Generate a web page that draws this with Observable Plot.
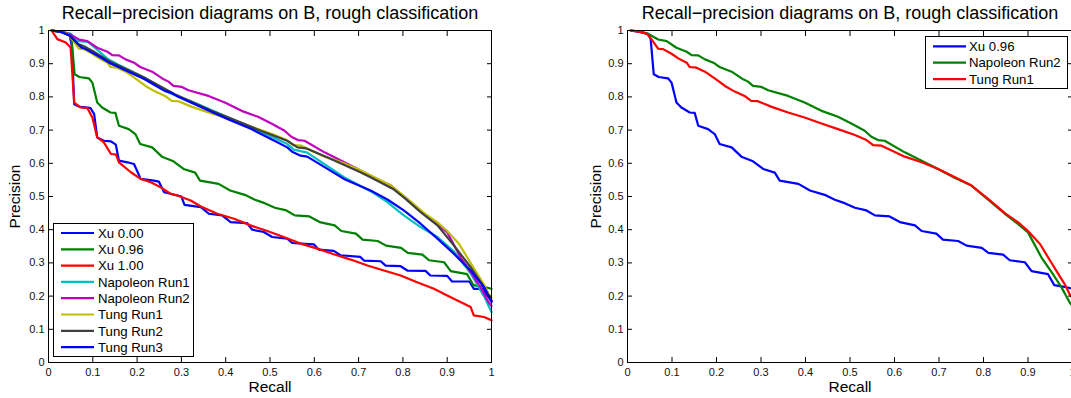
<!DOCTYPE html>
<html><head><meta charset="utf-8">
<script src="https://cdn.jsdelivr.net/npm/d3@7"></script>
<script src="https://cdn.jsdelivr.net/npm/@observablehq/plot@0.6"></script>
<style>
html,body{margin:0;padding:0;background:#fff;overflow:hidden}
#wrap{position:relative;width:1071px;height:398px;overflow:hidden;background:#fff;font-family:"Liberation Sans",Arial,sans-serif}
.panel{position:absolute;top:0}
.legend{position:absolute;overflow:visible}
</style></head><body><div id="wrap"></div>
<script>
// ---- data (recall, precision) ----
const titleText = "Recall\u2212precision diagrams on B, rough classification";
const xLabel = "Recall";
const yLabel = "Precision";
const tickValues = [0,0.1,0.2,0.3,0.4,0.5,0.6,0.7,0.8,0.9,1];
const tickLabels = ["0","0.1","0.2","0.3","0.4","0.5","0.6","0.7","0.8","0.9","1"];

const xu000 = [[0.007,1],[0.03,0.995],[0.048,0.985],[0.053,0.95],[0.058,0.778],[0.07,0.77],[0.088,0.768],[0.095,0.766],[0.103,0.748],[0.110,0.678],[0.125,0.668],[0.141,0.666],[0.152,0.656],[0.159,0.608],[0.178,0.603],[0.193,0.598],[0.208,0.553],[0.238,0.548],[0.249,0.545],[0.261,0.513],[0.291,0.503],[0.300,0.500],[0.307,0.475],[0.344,0.468],[0.362,0.448],[0.392,0.443],[0.411,0.423],[0.448,0.420],[0.460,0.400],[0.486,0.393],[0.505,0.378],[0.539,0.373],[0.550,0.360],[0.599,0.356],[0.610,0.340],[0.644,0.336],[0.659,0.323],[0.704,0.318],[0.712,0.307],[0.750,0.305],[0.761,0.292],[0.795,0.290],[0.810,0.277],[0.851,0.276],[0.862,0.262],[0.900,0.261],[0.911,0.244],[0.950,0.244],[0.960,0.222],[0.980,0.222],[1.0,0.185]];
const xu096 = [[0.007,1],[0.03,0.995],[0.046,0.99],[0.052,0.975],[0.059,0.868],[0.070,0.860],[0.091,0.856],[0.099,0.843],[0.110,0.783],[0.121,0.768],[0.140,0.753],[0.151,0.752],[0.159,0.713],[0.181,0.703],[0.196,0.688],[0.207,0.658],[0.234,0.648],[0.256,0.620],[0.282,0.606],[0.305,0.583],[0.331,0.572],[0.342,0.548],[0.384,0.538],[0.410,0.518],[0.443,0.505],[0.466,0.490],[0.488,0.480],[0.511,0.466],[0.537,0.458],[0.556,0.443],[0.589,0.440],[0.612,0.423],[0.646,0.413],[0.661,0.396],[0.694,0.388],[0.709,0.370],[0.743,0.366],[0.762,0.352],[0.796,0.345],[0.811,0.330],[0.844,0.325],[0.859,0.308],[0.893,0.302],[0.908,0.275],[0.945,0.266],[0.959,0.233],[0.982,0.228],[1.0,0.222]];
const xu100 = [[0.007,1],[0.02,0.974],[0.039,0.964],[0.050,0.949],[0.058,0.783],[0.073,0.768],[0.088,0.766],[0.099,0.738],[0.110,0.678],[0.125,0.663],[0.141,0.628],[0.152,0.627],[0.159,0.603],[0.186,0.573],[0.208,0.553],[0.231,0.543],[0.253,0.528],[0.276,0.508],[0.291,0.503],[0.321,0.488],[0.344,0.470],[0.381,0.448],[0.419,0.433],[0.456,0.413],[0.494,0.396],[0.531,0.378],[0.569,0.358],[0.607,0.343],[0.644,0.326],[0.682,0.310],[0.720,0.292],[0.757,0.277],[0.795,0.262],[0.832,0.242],[0.870,0.222],[0.900,0.202],[0.923,0.187],[0.953,0.167],[0.960,0.142],[0.983,0.137],[1.0,0.127]];
const napoleon1 = [[0.007,1],[0.03,0.996],[0.051,0.99],[0.063,0.969],[0.089,0.966],[0.104,0.949],[0.134,0.914],[0.16,0.895],[0.217,0.858],[0.276,0.810],[0.33,0.782],[0.40,0.742],[0.45,0.712],[0.50,0.682],[0.539,0.658],[0.554,0.641],[0.584,0.632],[0.667,0.558],[0.727,0.516],[0.765,0.483],[0.802,0.443],[0.840,0.408],[0.878,0.378],[0.915,0.335],[0.953,0.268],[0.983,0.200],[1.0,0.152]];
const napoleon2 = [[0.007,1],[0.03,0.997],[0.046,0.990],[0.069,0.973],[0.088,0.968],[0.110,0.948],[0.133,0.936],[0.144,0.926],[0.159,0.925],[0.174,0.913],[0.193,0.903],[0.207,0.890],[0.234,0.876],[0.260,0.853],[0.271,0.846],[0.282,0.833],[0.301,0.830],[0.316,0.820],[0.361,0.803],[0.398,0.783],[0.436,0.758],[0.473,0.740],[0.503,0.720],[0.533,0.698],[0.548,0.680],[0.563,0.670],[0.578,0.668],[0.623,0.633],[0.661,0.608],[0.698,0.583],[0.736,0.556],[0.773,0.533],[0.811,0.490],[0.848,0.448],[0.878,0.417],[0.900,0.392],[0.930,0.317],[0.953,0.272],[0.975,0.227],[0.994,0.180],[1.0,0.17]];
const tung1 = [[0.007,1],[0.03,0.995],[0.044,0.990],[0.054,0.973],[0.069,0.945],[0.080,0.944],[0.099,0.930],[0.114,0.916],[0.133,0.903],[0.140,0.890],[0.155,0.888],[0.174,0.876],[0.196,0.856],[0.219,0.833],[0.241,0.816],[0.263,0.803],[0.278,0.788],[0.293,0.787],[0.324,0.770],[0.361,0.753],[0.398,0.738],[0.436,0.720],[0.473,0.703],[0.511,0.685],[0.537,0.670],[0.552,0.655],[0.571,0.653],[0.623,0.620],[0.661,0.603],[0.698,0.583],[0.736,0.558],[0.773,0.533],[0.811,0.492],[0.848,0.450],[0.878,0.422],[0.900,0.396],[0.927,0.357],[0.945,0.317],[0.968,0.267],[0.982,0.237],[0.994,0.205],[1.0,0.195]];
const tung2 = [[0.007,1],[0.03,0.996],[0.048,0.986],[0.067,0.959],[0.084,0.950],[0.104,0.935],[0.142,0.904],[0.155,0.897],[0.217,0.858],[0.285,0.808],[0.368,0.758],[0.443,0.718],[0.479,0.698],[0.539,0.668],[0.562,0.648],[0.581,0.645],[0.629,0.618],[0.704,0.573],[0.727,0.558],[0.780,0.521],[0.806,0.493],[0.840,0.453],[0.878,0.413],[0.915,0.353],[0.953,0.287],[0.983,0.227],[1.0,0.187]];
const tung3 = [[0.007,1],[0.03,0.995],[0.048,0.984],[0.063,0.964],[0.074,0.949],[0.084,0.944],[0.104,0.929],[0.120,0.917],[0.142,0.899],[0.153,0.893],[0.217,0.853],[0.262,0.818],[0.277,0.812],[0.289,0.803],[0.330,0.778],[0.405,0.733],[0.458,0.703],[0.510,0.668],[0.539,0.648],[0.550,0.635],[0.569,0.623],[0.584,0.620],[0.667,0.553],[0.727,0.518],[0.765,0.491],[0.802,0.458],[0.840,0.418],[0.878,0.373],[0.915,0.328],[0.953,0.277],[0.983,0.227],[1.0,0.182]];

const leftNames = ["Xu 0.00","Xu 0.96","Xu 1.00","Napoleon Run1","Napoleon Run2","Tung Run1","Tung Run2","Tung Run3"];
const leftSeries = [xu000, xu096, xu100, napoleon1, napoleon2, tung1, tung2, tung3];
const leftColors = ["#0000ff","#008000","#ff0000","#00bfbf","#bf00bf","#bfbf00","#404040","#0000ff"];

const rightNames = ["Xu 0.96","Napoleon Run2","Tung Run1"];
const rightSeries = [xu096, napoleon2, tung1];
const rightColors = ["#0000ff","#008000","#ff0000"];

// ---- build ----
const FONT = "'Liberation Sans', Arial, Helvetica, sans-serif";
const fmt = d => tickLabels[tickValues.indexOf(d)];

function table(names, series) {
  const rows = [];
  names.forEach((n, k) => series[k].forEach(([r, p]) => rows.push({series: n, r, p})));
  return rows;
}

function panel(names, series, colors, opt) {
  const data = table(names, series);
  const tickAxis = (fn, anchor) => fn({anchor, ticks: tickValues, tickSize: -5, fill: "none", stroke: "#000", label: null});
  return Plot.plot({
    width: opt.width, height: 398,
    marginLeft: opt.ml, marginRight: opt.mr, marginTop: 30, marginBottom: 36,
    style: {fontFamily: FONT, fontSize: "11px", color: "#000", background: "transparent", overflow: "visible"},
    x: {domain: [0, 1]},
    y: {domain: [0, 1]},
    color: {domain: names, range: colors},
    marks: [
      Plot.line(data, {x: "r", y: "p", z: "series", stroke: "series", strokeWidth: 2.2, curve: "linear"}),
      Plot.frame({stroke: "#000", strokeWidth: 1}),
      tickAxis(Plot.axisX, "bottom"),
      tickAxis(Plot.axisX, "top"),
      tickAxis(Plot.axisY, "left"),
      tickAxis(Plot.axisY, "right"),
      Plot.axisX({anchor: "bottom", ticks: tickValues, tickFormat: fmt, tickSize: 0, tickPadding: 6, stroke: "none", fill: "#111", fontSize: 11, label: null}),
      Plot.axisY({anchor: "left", ticks: tickValues, tickFormat: fmt, tickSize: 0, tickPadding: 4, stroke: "none", fill: "#111", fontSize: 11, label: null}),
      Plot.text([titleText], {text: d => d, frameAnchor: "top", lineAnchor: "middle", textAnchor: "middle", dy: -17, fontSize: 18, fill: "#000"}),
      Plot.text([xLabel], {text: d => d, frameAnchor: "bottom", lineAnchor: "middle", textAnchor: "middle", dy: 25, fontSize: 15.5, fill: "#000"}),
      Plot.text([yLabel], {text: d => d, frameAnchor: "left", lineAnchor: "middle", textAnchor: "middle", dx: opt.ydx, rotate: -90, fontSize: 15.5, fill: "#000"})
    ]
  });
}

function legend(names, colors, box) {
  const svg = d3.create("svg").attr("class", "legend")
    .attr("width", box.w + 2).attr("height", box.h + 2)
    .style("left", (box.x - 1) + "px").style("top", (box.y - 1) + "px");
  svg.append("rect").attr("x", 1.5).attr("y", 1.5).attr("width", box.w - 1).attr("height", box.h - 1)
    .attr("fill", "#fff").attr("stroke", "#000").attr("stroke-width", 1);
  names.forEach((n, k) => {
    const cy = 1 + box.first + k * box.step;
    svg.append("line").attr("x1", 1 + box.lx).attr("x2", 1 + box.lx + box.ll).attr("y1", cy).attr("y2", cy)
      .attr("stroke", colors[k]).attr("stroke-width", 2.2);
    svg.append("text").attr("x", 1 + box.tx).attr("y", cy).attr("dy", "0.36em")
      .attr("font-family", FONT).attr("font-size", 13.2).attr("fill", "#000").text(n);
  });
  return svg.node();
}

const wrap = document.getElementById("wrap");
const left = panel(leftNames, leftSeries, leftColors, {width: 500, ml: 48, mr: 9, ydx: -33});
left.classList.add("panel"); left.style.left = "0px";
wrap.appendChild(left);
const right = panel(rightNames, rightSeries, rightColors, {width: 520, ml: 56, mr: 19, ydx: -31});
right.classList.add("panel"); right.style.left = "571px";
wrap.appendChild(right);

wrap.appendChild(legend(leftNames, leftColors, {x: 53, y: 222.5, w: 141, h: 134, first: 10, step: 16.3, lx: 8, ll: 33, tx: 45}));
wrap.appendChild(legend(rightNames, rightColors, {x: 925, y: 36, w: 143, h: 53, first: 10.3, step: 16.4, lx: 8, ll: 33, tx: 44}));
</script></body></html>
